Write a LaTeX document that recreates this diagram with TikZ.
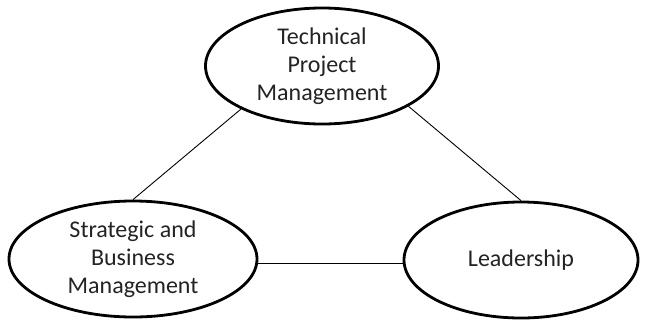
\documentclass[tikz,border=0pt]{standalone}
\usepackage{fontspec}
\setmainfont{Carlito}
\usetikzlibrary{shapes.geometric}
\definecolor{txt}{RGB}{35,35,35}
\tikzset{
  oval/.style={ellipse, draw=black, line width=2.8pt, inner sep=0pt, align=center,
    text=txt, font=\fontsize{24}{28}\selectfont},
  link/.style={draw=black, line width=0.9pt}
}
\begin{document}
\begin{tikzpicture}[x=1pt,y=-1pt]
\useasboundingbox (0,0) rectangle (645,322);
\node[oval, minimum width=233pt, minimum height=116pt] (top) at (322,66) {Technical\\Project\\Management};
\node[oval, minimum width=248pt, minimum height=116pt] (left) at (133,259) {Strategic and\\Business\\Management};
\node[oval, minimum width=234pt, minimum height=116pt] (right) at (521,260) {Leadership};
\coordinate (hl) at (left.-2);
\draw[link] (top.208) -- (left.north);
\draw[link] (top.335) -- (right.north);
\draw[link] (hl) -- (right.west |- hl);
\end{tikzpicture}
\end{document}
